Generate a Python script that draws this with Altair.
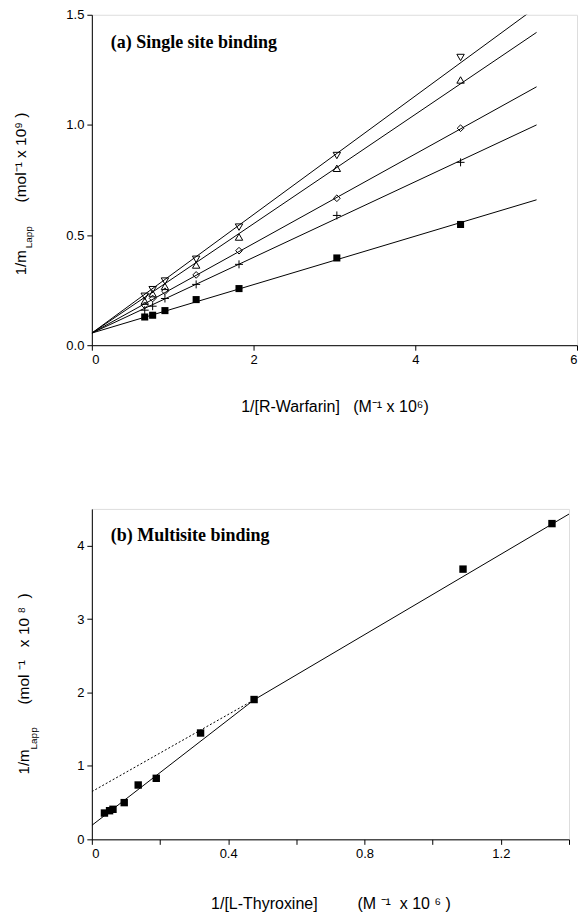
import altair as alt
import pandas as pd

SANS = "Liberation Sans"
SERIF = "Liberation Serif"
NB = "\u00a0"

# ---------------- panel (a): single site binding ----------------
a_x = [0.654, 0.752, 0.904, 1.29, 1.82, 3.03, 4.56]
a_tri_down = [0.222, 0.252, 0.291, 0.390, 0.536, 0.861, 1.306]
a_tri_up = [0.200, 0.234, 0.267, 0.364, 0.491, 0.803, 1.204]
a_diamond = [0.181, 0.212, 0.245, 0.319, 0.429, 0.667, 0.985]
a_plus = [0.159, 0.177, 0.212, 0.276, 0.367, 0.589, 0.830]
a_square = [0.128, 0.136, 0.157, 0.207, 0.257, 0.396, 0.548]
a_fit_x = [0.0, 5.5]
a_fit_tri_down = [0.055, 1.535]
a_fit_tri_up = [0.055, 1.42]
a_fit_diamond = [0.055, 1.173]
a_fit_plus = [0.055, 1.0]
a_fit_square = [0.055, 0.66]
a_xticks = [0, 2, 4, 6]
a_yticks = [0.0, 0.5, 1.0, 1.5]

# ---------------- panel (b): multisite binding ----------------
b_x = [0.037, 0.052, 0.062, 0.095, 0.136, 0.189, 0.319, 0.476, 1.089, 1.350]
b_y = [0.358, 0.390, 0.409, 0.500, 0.740, 0.831, 1.448, 1.904, 3.68, 4.30]
b_fit_x = [0.0, 0.476, 1.4]
b_fit_y = [0.19, 1.90, 4.43]
b_dot_x = [0.0, 0.476]
b_dot_y = [0.65, 1.90]
b_xticks = [0, 0.2, 0.4, 0.6, 0.8, 1.0, 1.2, 1.4]
b_yticks = [0, 1, 2, 3, 4]

W_A, H_A = 486, 331
W_B, H_B = 478, 331

series = {
    "tri_down": (a_tri_down, a_fit_tri_down),
    "tri_up": (a_tri_up, a_fit_tri_up),
    "diamond": (a_diamond, a_fit_diamond),
    "plus": (a_plus, a_fit_plus),
    "square": (a_square, a_fit_square),
}

pts_a = pd.DataFrame([
    {"x": xv, "y": yv, "s": name}
    for name, (ys, _) in series.items() for xv, yv in zip(a_x, ys)
])
fit_a = pd.DataFrame([
    {"x": xv, "y": yv, "s": name}
    for name, (_, fy) in series.items() for xv, yv in zip(a_fit_x, fy)
])


def axis_common(**kw):
    base = dict(grid=False, domainColor="black", tickColor="black", labelColor="black",
                titleColor="black", labelFont=SANS, titleFont=SANS, labelFontSize=13,
                titleFontSize=16, titleFontWeight="normal", tickSize=5, domainWidth=1,
                tickWidth=1, labelPadding=3)
    base.update(kw)
    return alt.Axis(**base)


xa = alt.X("x:Q", scale=alt.Scale(domain=[0, 6], nice=False, zero=False),
           axis=axis_common(values=a_xticks, format="d",
                            title=f"1/[R-Warfarin]{NB}{NB}{NB}(M⁻¹ x 10⁶)",
                            titlePadding=32))
ya = alt.Y("y:Q", scale=alt.Scale(domain=[0, 1.5], nice=False, zero=False),
           axis=axis_common(values=a_yticks, format=".1f", title=None))


def txt(s, x, y, size, angle=0, font=SANS, weight="normal", baseline="middle"):
    return alt.Chart(alt.Data(values=[{}])).mark_text(
        text=s, font=font, fontSize=size, fontWeight=weight, angle=angle,
        align="left", baseline=baseline, color="black"
    ).encode(x=alt.value(x), y=alt.value(y))


lines_a = alt.Chart(fit_a).mark_line(color="black", strokeWidth=1, clip=True).encode(
    x=xa, y=ya, detail="s:N")

shape_specs = {
    "tri_down": dict(shape="triangle-down", filled=False, size=55),
    "tri_up": dict(shape="triangle-up", filled=False, size=55),
    "diamond": dict(shape="diamond", filled=False, size=45),
    "plus": dict(shape="M-1,0L1,0M0,-1L0,1", filled=False, size=64),
    "square": dict(shape="square", filled=True, size=50),
}
point_layers_a = []
for name, spec in shape_specs.items():
    d = pts_a[pts_a["s"] == name]
    point_layers_a.append(
        alt.Chart(d).mark_point(color="black", strokeWidth=1, opacity=1, **spec).encode(x=xa, y=ya)
    )

title_a = txt("(a) Single site binding", 19, 33, 18, font=SERIF, weight="bold",
              baseline="alphabetic")
ytitle_a = [
    txt("1/m", -71, 261, 15, angle=270),
    txt("Lapp", -63, 234, 10, angle=270),
    txt(f"(mol⁻¹ x 10⁹{NB})", -71, 188, 15.5, angle=270),
]

chart_a = alt.layer(lines_a, *point_layers_a, title_a, *ytitle_a).properties(
    width=W_A, height=H_A)

# ---------------- panel (b) ----------------
pts_b = pd.DataFrame({"x": b_x, "y": b_y})
fit_b = pd.DataFrame({"x": b_fit_x, "y": b_fit_y})
dot_b = pd.DataFrame({"x": b_dot_x, "y": b_dot_y})

xb = alt.X("x:Q", scale=alt.Scale(domain=[0, 1.4], nice=False, zero=False),
           axis=axis_common(
               values=b_xticks, format="~g",
               labelExpr="(abs(datum.value - 0.4*round(datum.value/0.4)) < 0.001 && datum.value < 1.3) ? datum.label : ''",
               title=f"1/[L-Thyroxine]{NB*9}(M{NB}⁻¹{NB}{NB}x 10{NB}⁶{NB})",
               titlePadding=35))
yb = alt.Y("y:Q", scale=alt.Scale(domain=[0, 4.5], nice=False, zero=False),
           axis=axis_common(values=b_yticks, format="d", title=None))

line_b = alt.Chart(fit_b).mark_line(color="black", strokeWidth=1, clip=True).encode(x=xb, y=yb)
dotline_b = alt.Chart(dot_b).mark_line(color="black", strokeWidth=1, strokeDash=[2, 2],
                                       clip=True).encode(x=xb, y=yb)
points_b = alt.Chart(pts_b).mark_point(shape="square", filled=True, size=55, color="black",
                                       opacity=1).encode(x=xb, y=yb)
title_b = txt("(b) Multisite binding", 19, 32, 18, font=SERIF, weight="bold",
              baseline="alphabetic")
ytitle_b = [
    txt("1/m", -68, 266, 15, angle=270),
    txt("Lapp", -58, 241, 10, angle=270),
    txt(f"(mol{NB}⁻¹{NB}{NB}{NB}x 10{NB}⁸{NB}{NB})", -68, 196, 15.5, angle=270),
]

chart_b = alt.layer(line_b, dotline_b, points_b, title_b, *ytitle_b).properties(
    width=W_B, height=H_B)

chart = alt.vconcat(chart_a, chart_b, spacing=93).properties(
    padding={"left": 13, "top": 7, "right": 0, "bottom": 0}
).configure_view(stroke="black", strokeWidth=1).configure(background="white")

chart.save("out.html", embed_options={"renderer": "svg", "actions": False})
